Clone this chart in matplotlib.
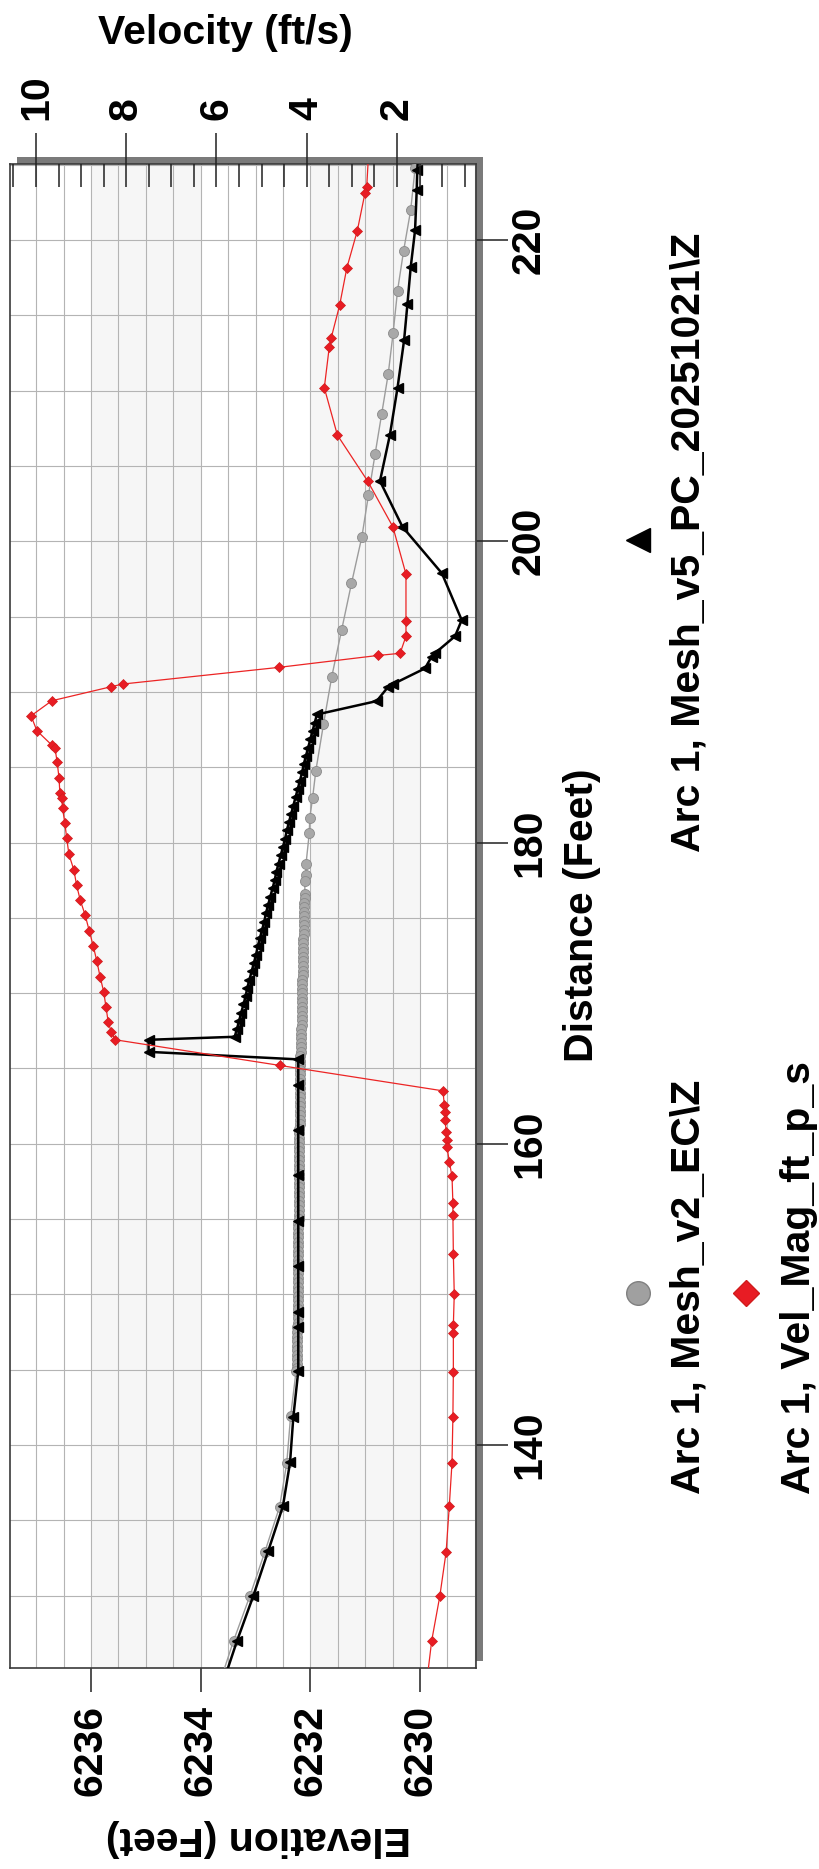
import matplotlib
matplotlib.use('Agg')
import matplotlib.pyplot as plt
from matplotlib.ticker import MultipleLocator, FixedLocator
from matplotlib.patches import Rectangle
from matplotlib.lines import Line2D

# ---------------- data ----------------
# Arc 1, Mesh_v2_EC\Z  (distance ft, elevation ft)
grey_dist = [225.9, 224.76, 221.99, 219.27, 216.63, 213.84, 211.10, 208.45, 205.77, 203.07,
             200.30, 197.20, 194.10, 191.00, 187.86, 184.76, 182.93, 181.64, 180.60, 178.54,
             177.83, 177.44,
             176.6, 176.3, 176.0, 175.7, 175.4, 175.1, 174.8, 174.5, 174.2, 173.9,
             173.6, 173.3, 173.0, 172.7, 172.4, 172.1, 171.8, 171.5, 171.2, 170.9,
             170.6, 170.3, 170.0, 169.7, 169.4, 169.1, 168.8, 168.5, 168.2, 167.9,
             167.6, 167.3, 167.0, 166.7, 166.4, 166.1, 165.8, 165.5, 165.2, 164.9,
             164.6, 164.3, 164.0, 163.7, 163.4, 163.1, 162.8, 162.5, 162.2, 161.9,
             161.6, 161.3, 161.0, 160.7, 160.4, 160.1, 159.8, 159.5, 159.2, 158.9,
             158.6, 158.3, 158.0, 157.7, 157.4, 157.1, 156.8, 156.5, 156.2, 155.9,
             155.6, 155.3, 155.0, 154.7, 154.4, 154.1, 153.8, 153.5, 153.2, 152.9,
             152.6, 152.3, 152.0, 151.7, 151.4, 151.1, 150.8, 150.5, 150.2, 149.9,
             149.6, 149.3, 149.0, 148.7, 148.4, 148.1, 147.8, 147.5, 147.2, 146.9,
             146.6, 146.3, 146.0, 145.7, 145.4, 145.1,
             144.9, 141.9, 138.8, 135.9, 132.9, 130.0, 127.0, 123.9]
grey_elev = [6230.06, 6230.09, 6230.17, 6230.30, 6230.41, 6230.49, 6230.58, 6230.70, 6230.82, 6230.94,
             6231.06, 6231.25, 6231.43, 6231.61, 6231.76, 6231.90, 6231.96, 6232.01, 6232.02, 6232.08,
             6232.08, 6232.10,
             6232.10, 6232.10, 6232.11, 6232.11, 6232.11, 6232.11, 6232.12, 6232.12, 6232.12, 6232.12,
             6232.13, 6232.13, 6232.13, 6232.13, 6232.14, 6232.14, 6232.14, 6232.14, 6232.14, 6232.15,
             6232.15, 6232.15, 6232.15, 6232.15, 6232.16, 6232.16, 6232.16, 6232.16, 6232.16, 6232.16,
             6232.17, 6232.17, 6232.17, 6232.17, 6232.17, 6232.17, 6232.18, 6232.18, 6232.18, 6232.18,
             6232.18, 6232.18, 6232.18, 6232.18, 6232.19, 6232.19, 6232.19, 6232.19, 6232.19, 6232.19,
             6232.19, 6232.19, 6232.20, 6232.20, 6232.20, 6232.20, 6232.20, 6232.20, 6232.20, 6232.20,
             6232.20, 6232.20, 6232.21, 6232.21, 6232.21, 6232.21, 6232.21, 6232.21, 6232.21, 6232.21,
             6232.21, 6232.21, 6232.21, 6232.22, 6232.22, 6232.22, 6232.22, 6232.22, 6232.22, 6232.22,
             6232.22, 6232.22, 6232.22, 6232.22, 6232.22, 6232.23, 6232.23, 6232.23, 6232.23, 6232.23,
             6232.23, 6232.23, 6232.23, 6232.23, 6232.23, 6232.23, 6232.24, 6232.24, 6232.24, 6232.24,
             6232.24, 6232.24, 6232.24, 6232.24, 6232.25, 6232.25,
             6232.26, 6232.36, 6232.43, 6232.56, 6232.83, 6233.10, 6233.40, 6233.68]

# Arc 1, Mesh_v5_PC_20251021\Z  (distance ft, elevation ft)
black_dist = [225.9, 224.65, 223.32, 220.66, 218.19, 215.73, 213.36, 210.19, 207.05, 204.00,
              200.96, 197.87, 194.77, 193.70, 192.56, 192.33, 191.56, 190.52, 190.34, 189.39,
              188.50, 187.95, 187.40, 186.85, 186.30, 185.75, 185.20, 184.65, 184.10, 183.55,
              183.00, 182.45, 181.90, 181.35, 180.80, 180.25, 179.70, 179.15, 178.60, 178.05,
              177.50, 176.95, 176.40, 175.85, 175.30, 174.75, 174.20, 173.65, 173.10, 172.55,
              172.00, 171.45, 170.90, 170.35, 169.80, 169.25, 168.70, 168.15, 167.60, 167.10,
              166.90, 166.10, 165.60, 163.90, 160.90, 157.90, 154.90, 151.90,
              148.80, 147.80, 144.91, 141.86, 138.84, 135.93, 132.94, 129.98, 126.96, 123.90]
black_elev = [6230.03, 6230.05, 6230.06, 6230.09, 6230.17, 6230.23, 6230.29, 6230.41, 6230.55, 6230.73,
              6230.32, 6229.60, 6229.24, 6229.36, 6229.73, 6229.79, 6229.91, 6230.49, 6230.58, 6230.79,
              6231.88, 6231.92, 6231.96, 6232.00, 6232.04, 6232.08, 6232.12, 6232.15, 6232.19, 6232.23,
              6232.27, 6232.31, 6232.35, 6232.39, 6232.43, 6232.46, 6232.50, 6232.54, 6232.58, 6232.62,
              6232.65, 6232.69, 6232.73, 6232.77, 6232.81, 6232.84, 6232.88, 6232.92, 6232.96, 6232.99,
              6233.03, 6233.07, 6233.11, 6233.15, 6233.18, 6233.22, 6233.26, 6233.30, 6233.34, 6233.38,
              6234.95, 6234.95, 6232.22, 6232.22, 6232.22, 6232.22, 6232.22, 6232.22,
              6232.22, 6232.22, 6232.22, 6232.31, 6232.37, 6232.50, 6232.77, 6233.04, 6233.34, 6233.62]

# Arc 1, Vel_Mag_ft_p_s  (distance ft, velocity ft/s)
vel_dist = [226.2, 223.54, 223.10, 220.60, 218.16, 215.68, 213.47, 212.90, 210.19, 207.05,
            204.00, 200.96, 197.82, 194.72, 193.70, 192.56, 192.42, 191.63, 190.52, 190.34,
            189.41, 188.41, 187.42, 186.47, 186.29, 185.32, 184.30, 183.26, 182.93, 182.26,
            181.27, 180.31, 179.21, 178.17, 177.17, 176.18, 175.18, 174.14, 173.12, 172.10,
            171.10, 170.10, 169.10, 168.10, 167.40, 166.90, 165.20, 163.51, 162.56,
            162.12, 161.57, 160.79, 160.24, 159.79, 158.80, 157.85, 156.04, 155.26, 152.67,
            150.00, 147.95, 147.40, 144.85, 141.87, 138.81, 135.94, 132.90, 129.96, 127.00, 124.00]
vel_val = [2.62, 2.67, 2.71, 2.88, 3.11, 3.27, 3.46, 3.50, 3.61, 3.32,
           2.65, 2.09, 1.80, 1.80, 1.80, 1.93, 2.42, 4.61, 8.08, 8.34,
           9.65, 10.11, 9.98, 9.65, 9.58, 9.53, 9.49, 9.47, 9.43, 9.41,
           9.36, 9.32, 9.27, 9.16, 9.10, 9.02, 8.91, 8.82, 8.73, 8.65,
           8.58, 8.50, 8.45, 8.40, 8.33, 8.24, 4.60, 0.98, 0.95,
           0.93, 0.93, 0.91, 0.89, 0.89, 0.84, 0.78, 0.76, 0.76, 0.75,
           0.73, 0.75, 0.75, 0.75, 0.76, 0.78, 0.84, 0.91, 1.05, 1.23, 1.35]

elev_ticks = [6230, 6232, 6234, 6236]
dist_ticks = [140, 160, 180, 200, 220]
vel_ticks = [2, 4, 6, 8, 10]
legend_labels = ['Arc 1, Mesh_v2_EC\\Z', 'Arc 1, Vel_Mag_ft_p_s', 'Arc 1, Mesh_v5_PC_20251021\\Z']

# ---------------- figure ----------------
plt.rcParams['font.family'] = ['Liberation Sans', 'DejaVu Sans']
plt.rcParams['font.weight'] = 'bold'
W, H = 820, 1869
fig = plt.figure(figsize=(W / 100, H / 100), dpi=100)

def fx(px):
    return px / W

def fy(py):
    return 1 - py / H

L, R, T, B = 10, 476, 164, 1668
FS = 29.5

# drop shadow behind the plot frame
fig.add_artist(Rectangle((fx(17), fy(1661)), (483 - 17) / W, (1661 - 157) / H,
                         transform=fig.transFigure, facecolor='#7a7a7a',
                         edgecolor='none', zorder=-1))

ax = fig.add_axes([fx(L), fy(B), (R - L) / W, (B - T) / H])
ax.set_facecolor('white')
ax.set_xlim(6237.477, 6228.979)
ax.set_ylim(125.19, 225.05)

for a, b in [(6236, 6234), (6232, 6230)]:
    ax.axvspan(b, a, color='#f6f6f6', lw=0, zorder=0)

ax.xaxis.set_major_locator(FixedLocator(elev_ticks))
ax.xaxis.set_minor_locator(MultipleLocator(0.5))
ax.yaxis.set_major_locator(FixedLocator(dist_ticks))
ax.yaxis.set_minor_locator(MultipleLocator(5))
ax.grid(which='both', color='#b4b4b4', lw=0.8)
ax.set_axisbelow(True)
ax.tick_params(which='minor', length=0)
ax.yaxis.tick_right()
ax.tick_params(axis='x', which='major', direction='out', length=17, width=1.1,
               pad=9.4, labelsize=FS, labelrotation=90, color='#202020')
ax.tick_params(axis='y', which='major', direction='out', length=23, width=1.1,
               pad=1.5, labelsize=FS, labelrotation=90, color='#202020')
plt.setp(ax.get_yticklabels(), va='center', ha='left')
for s in ax.spines.values():
    s.set_color('#3a3a3a')
    s.set_linewidth(1.2)

ax.plot(grey_elev, grey_dist, color='#9c9c9c', lw=1.0, marker='o', ms=7.2,
        mfc='#a8a8a8', mec='#8a8a8a', mew=0.6, zorder=3)
ax.plot(black_elev, black_dist, color='black', lw=1.8, marker='<', ms=6.5,
        mfc='black', mec='black', zorder=4)

ax2 = ax.twiny()
ax2.set_xlim(10.576, 0.248)
ax2.set_ylim(125.19, 225.05)
ax2.xaxis.set_major_locator(FixedLocator(vel_ticks))
ax2.xaxis.set_minor_locator(MultipleLocator(0.5))
ax2.xaxis.remove_overlapping_locs = False
ax2.tick_params(axis='x', which='major', direction='out', length=22.5, width=1.1,
                pad=9.4, labelsize=FS, labelrotation=90, color='#202020')
ax2.tick_params(axis='x', which='minor', direction='in', length=16.5, width=1.1,
                color='#202020')
for s in ax2.spines.values():
    s.set_visible(False)
ax2.plot(vel_val, vel_dist, color='#ec2424', lw=0.9, marker='D', ms=5.0,
         mfc='#e81c24', mec='#d01c1c', mew=0.5, zorder=5)

# axis titles
fig.text(fx(225), fy(33), 'Velocity (ft/s)', ha='center', va='center', fontsize=FS,
         fontweight='bold')
fig.text(fx(258), fy(1838), 'Elevation (Feet)', ha='center', va='center', fontsize=FS,
         fontweight='bold', rotation=180)
fig.text(fx(582), fy(915), 'Distance (Feet)', ha='center', va='center', fontsize=FS,
         fontweight='bold', rotation=90)

# legend (rotated)
fig.add_artist(Line2D([fx(638)], [fy(1293)], transform=fig.transFigure, marker='o', ms=17,
                      mfc='#a0a0a0', mec='#808080', mew=1, ls='none'))
fig.add_artist(Line2D([fx(746)], [fy(1293)], transform=fig.transFigure, marker='D', ms=13,
                      mfc='#e81c24', mec='#d01c1c', mew=1, ls='none'))
fig.add_artist(Line2D([fx(638)], [fy(540)], transform=fig.transFigure, marker='<', ms=17,
                      mfc='black', mec='black', ls='none'))
fig.text(fx(689), fy(1494), legend_labels[0], rotation=90, ha='center', va='bottom',
         fontsize=FS, fontweight='bold')
fig.text(fx(799), fy(1494), legend_labels[1], rotation=90, ha='center', va='bottom',
         fontsize=FS, fontweight='bold')
fig.text(fx(689), fy(852), legend_labels[2], rotation=90, ha='center', va='bottom',
         fontsize=FS, fontweight='bold')

fig.savefig('out.png', dpi=100)
